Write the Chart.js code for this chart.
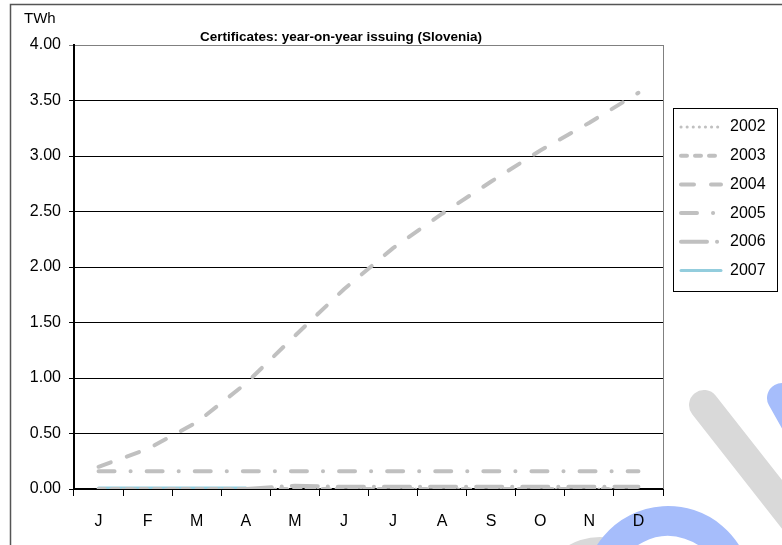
<!DOCTYPE html>
<html>
<head>
<meta charset="utf-8">
<script src="https://cdn.jsdelivr.net/npm/chart.js@4"></script>
<style>
   html, body { margin: 0; padding: 0; background: #ffffff; }
   #wrap { width: 782px; height: 545px; }
</style>
</head>
<body>
<div id="wrap"><canvas id="chart" width="782" height="545"></canvas></div>
<script>
const months = ["J", "F", "M", "A", "M", "J", "J", "A", "S", "O", "N", "D"];
const years = ["2002", "2003", "2004", "2005", "2006", "2007"];

// TWh issued per month
const y2002 = [0, 0, 0, 0, 0, 0, 0, 0, 0, 0, 0, 0];
const y2003 = [0, 0, 0, 0, 0, 0, 0, 0, 0, 0, 0, 0];
const y2004 = [0.2, 0.36, 0.6, 0.95, 1.38, 1.8, 2.17, 2.48, 2.77, 3.05, 3.3, 3.57];
const y2005 = [0.16, 0.16, 0.16, 0.16, 0.16, 0.16, 0.16, 0.16, 0.16, 0.16, 0.16, 0.16];
const y2006 = [null, null, null, 0, 0.03, 0.02, 0.02, 0.02, 0.02, 0.02, 0.02, 0.02];
const y2007 = [0.01, 0.01, 0.01, 0.01, null, null, null, null, null, null, null, null];

const yTicks = [0, 0.5, 1, 1.5, 2, 2.5, 3, 3.5, 4];

const FONT = "Arial, 'Liberation Sans', sans-serif";
const GREY = "#c0c0c0";

function series(label, data, color, dash, width) {
   return {
      label: label,
      data: data,
      borderColor: color,
      backgroundColor: color,
      borderDash: dash,
      borderWidth: width,
      borderCapStyle: "round",
      pointRadius: 0,
      tension: 0,
      fill: false,
   };
}

const datasets = [
   series(years[0], y2002, GREY, [0.1, 6], 3),
   series(years[1], y2003, GREY, [6, 8], 4),
   series(years[2], y2004, GREY, [13, 17], 4),
   series(years[3], y2005, GREY, [16, 16, 0.1, 16], 4),
   series(years[4], y2006, GREY, [26, 10, 0.1, 10], 4),
   series(years[5], y2007, "#93cddd", [], 3),
];

const decor = {
   id: "decor",
   beforeDraw(chart) {
      const c = chart.ctx;
      c.save();
      c.fillStyle = "#ffffff";
      c.fillRect(0, 0, chart.width, chart.height);
      c.strokeStyle = "#555555";
      c.lineWidth = 1.5;
      c.strokeRect(10.5, 4.5, 900, 700);

      // watermark strokes, under everything else
      c.lineCap = "round";
      c.lineWidth = 30;
      c.strokeStyle = "#d9d9d9";
      c.beginPath();
      c.moveTo(704, 405);
      c.lineTo(810, 540);
      c.stroke();
      c.beginPath();
      c.arc(600, 600, 48, Math.PI * 1.2, Math.PI * 1.6);
      c.stroke();
      c.strokeStyle = "#a6bdfb";
      c.beginPath();
      c.moveTo(782, 398);
      c.lineTo(800, 430);
      c.stroke();
      c.lineCap = "butt";
      c.beginPath();
      c.arc(668, 590, 69, Math.PI * 1.1, Math.PI * 1.85);
      c.stroke();
      c.restore();
   },
   afterDatasetsDraw(chart) {
      const c = chart.ctx;
      const a = chart.chartArea;
      c.save();
      c.strokeStyle = "#808080";
      c.lineWidth = 1;
      c.beginPath();
      c.moveTo(a.right + 0.5, a.top);
      c.lineTo(a.right + 0.5, a.bottom);
      c.stroke();
      c.restore();
   },
   afterDraw(chart) {
      const c = chart.ctx;
      c.save();
      // title and unit
      c.fillStyle = "#000000";
      c.textAlign = "center";
      c.textBaseline = "middle";
      c.font = "bold 13.5px " + FONT;
      c.fillText("Certificates: year-on-year issuing (Slovenia)", 341, 37);
      c.textAlign = "left";
      c.font = "15px " + FONT;
      c.fillText("TWh", 24, 19);

      // legend
      const lx = 673, ly = 108, lw = 104, lh = 183;
      c.strokeStyle = "#000000";
      c.lineWidth = 1;
      c.strokeRect(lx + 0.5, ly + 0.5, lw, lh);
      c.font = "16px " + FONT;
      chart.data.datasets.forEach((ds, i) => {
         const y = 127 + i * 28.7;
         c.beginPath();
         c.strokeStyle = ds.borderColor;
         c.lineWidth = ds.borderWidth;
         c.lineCap = "round";
         c.setLineDash(ds.borderDash);
         c.moveTo(681, y);
         c.lineTo(721, y);
         c.stroke();
         c.setLineDash([]);
         c.fillStyle = "#000000";
         c.textAlign = "left";
         c.fillText(ds.label, 730, y);
      });
      c.restore();
   },
};

new Chart(document.getElementById("chart"), {
   type: "line",
   data: { labels: months, datasets: datasets },
   options: {
      responsive: false,
      animation: false,
      layout: { padding: { left: 0, right: 119, top: 45, bottom: 0 } },
      plugins: {
         legend: { display: false },
         title: { display: false },
         tooltip: { enabled: false },
      },
      scales: {
         x: {
            offset: true,
            grid: { offset: true, drawOnChartArea: false, tickLength: 7, color: "#000000" },
            border: { color: "#000000", width: 2 },
            ticks: { color: "#000000", font: { family: FONT, size: 16 }, padding: 16 },
            afterFit: (s) => { s.height = 56; },
         },
         y: {
            min: 0,
            max: 4,
            afterBuildTicks: (s) => { s.ticks = yTicks.map((v) => ({ value: v })); },
            grid: {
               tickLength: 5,
               color: (ctx) => (ctx.tick && ctx.tick.value === 4 ? "#808080" : "#000000"),
            },
            border: { color: "#000000", width: 2 },
            ticks: {
               color: "#000000",
               font: { family: FONT, size: 16 },
               padding: 8,
               callback: (v) => Number(v).toFixed(2),
            },
            afterFit: (s) => { s.width = 74; },
         },
      },
   },
   plugins: [decor],
});
</script>
</body>
</html>
